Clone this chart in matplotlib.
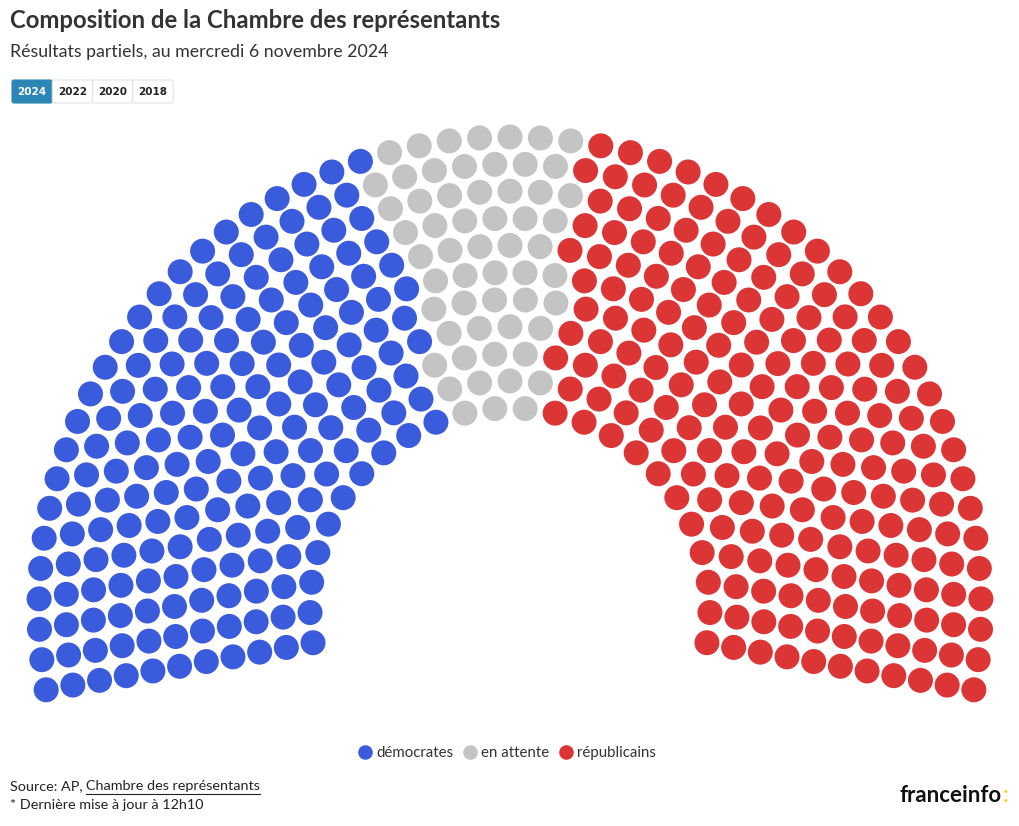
import numpy as np
import matplotlib
matplotlib.use("Agg")
import matplotlib.pyplot as plt
from matplotlib.patches import FancyBboxPatch
from matplotlib.lines import Line2D

# ---- data ----
parties = ["démocrates", "en attente", "républicains"]
seats = [180, 57, 198]
colors = ["#3a5cdc", "#c4c4c4", "#dc3536"]
years = ["2024", "2022", "2020", "2018"]
title = "Composition de la Chambre des représentants"
subtitle = "Résultats partiels, au mercredi 6 novembre 2024"

plt.rcParams['font.family'] = ['Lato', 'DejaVu Sans']
W, H = 1020, 826
fig = plt.figure(figsize=(W / 100, H / 100), dpi=100)
ax = fig.add_axes([0, 0, 1, 1])
ax.set_xlim(0, W)
ax.set_ylim(H, 0)
ax.set_aspect('equal')
ax.axis('off')

# ---- hemicycle layout ----
cx, cy = 510, 608
n_rows = 11
radii = np.linspace(200, 471, n_rows)
total = sum(seats)
raw = radii / radii.sum() * total
counts = np.floor(raw).astype(int)
rem = total - counts.sum()
order = np.argsort(-(raw - counts))
counts[order[:rem]] += 1

a_start, a_end = np.deg2rad(190), np.deg2rad(-10)
pts = []
for r, n in zip(radii, counts):
    angs = np.linspace(a_start, a_end, n)
    for a in angs:
        pts.append((a, r))
pts.sort(key=lambda p: (-p[0], p[1]))
pts = np.array(pts)
xs = cx + pts[:, 1] * np.cos(pts[:, 0])
ys = cy - pts[:, 1] * np.sin(pts[:, 0])
seat_colors = np.repeat(colors, seats)
diam_pt = 25 * 72 / 100
ax.scatter(xs, ys, s=diam_pt ** 2, c=list(seat_colors), linewidths=0)

# ---- titles ----
ax.text(10, 21, title, fontsize=17.2, fontweight='bold', color='#333333', va='center', ha='left')
ax.text(10, 52, subtitle, fontsize=12.8, color='#333333', va='center', ha='left')

# ---- year buttons ----
bx, by, bw, bh = 12, 80, 40.3, 23
for i, yr in enumerate(years):
    sel = i == 0
    x0 = bx + i * bw
    rect = FancyBboxPatch((x0, by), bw, bh, boxstyle="round,pad=0,rounding_size=2",
                          facecolor='#2b86b5' if sel else 'white',
                          edgecolor='#2b86b5' if sel else '#e3e3e3', linewidth=0.8)
    ax.add_patch(rect)
    ax.text(x0 + bw / 2, by + bh / 2 + 0.5, yr, fontsize=7.5, fontweight='bold',
            color='white' if sel else '#222222', ha='center', va='center',
            family=['DejaVu Sans'])

# ---- legend ----
handles = [Line2D([], [], marker='o', linestyle='none', markersize=10.5,
                  markerfacecolor=c, markeredgewidth=0) for c in colors]
leg = ax.legend(handles, parties, ncol=3, loc='center', bbox_to_anchor=(507 / W, 1 - 753 / H),
                frameon=False, fontsize=10.8, handletextpad=0.25, columnspacing=0.6,
                handlelength=1.0, borderaxespad=0)
for t in leg.get_texts():
    t.set_color('#333333')

# ---- footer ----
fig.canvas.draw()
r = fig.canvas.get_renderer()
t1 = ax.text(10, 786, "Source: AP, ", fontsize=10.4, color='#222222', va='center', ha='left')
bb = t1.get_window_extent(r)
x_after = ax.transData.inverted().transform((bb.x1, bb.y0))[0]
t2 = ax.text(x_after, 786, "Chambre des représentants", fontsize=10.4, color='#222222',
             va='center', ha='left')
bb2 = t2.get_window_extent(r)
x_end = ax.transData.inverted().transform((bb2.x1, bb2.y0))[0]
ax.plot([x_after, x_end], [794, 794], color='#222222', linewidth=0.8)
ax.text(10, 805, "* Dernière mise à jour à 12h10", fontsize=10.4, color='#222222',
        va='center', ha='left')

# franceinfo logo
ax.text(1002, 795, "franceinfo", fontsize=16, fontweight='bold', color='#111111',
        va='center', ha='right')
ax.text(1003, 795, ":", fontsize=16, fontweight='bold', color='#ffd21f',
        va='center', ha='left')

fig.savefig("out.png", dpi=100, facecolor='white')
